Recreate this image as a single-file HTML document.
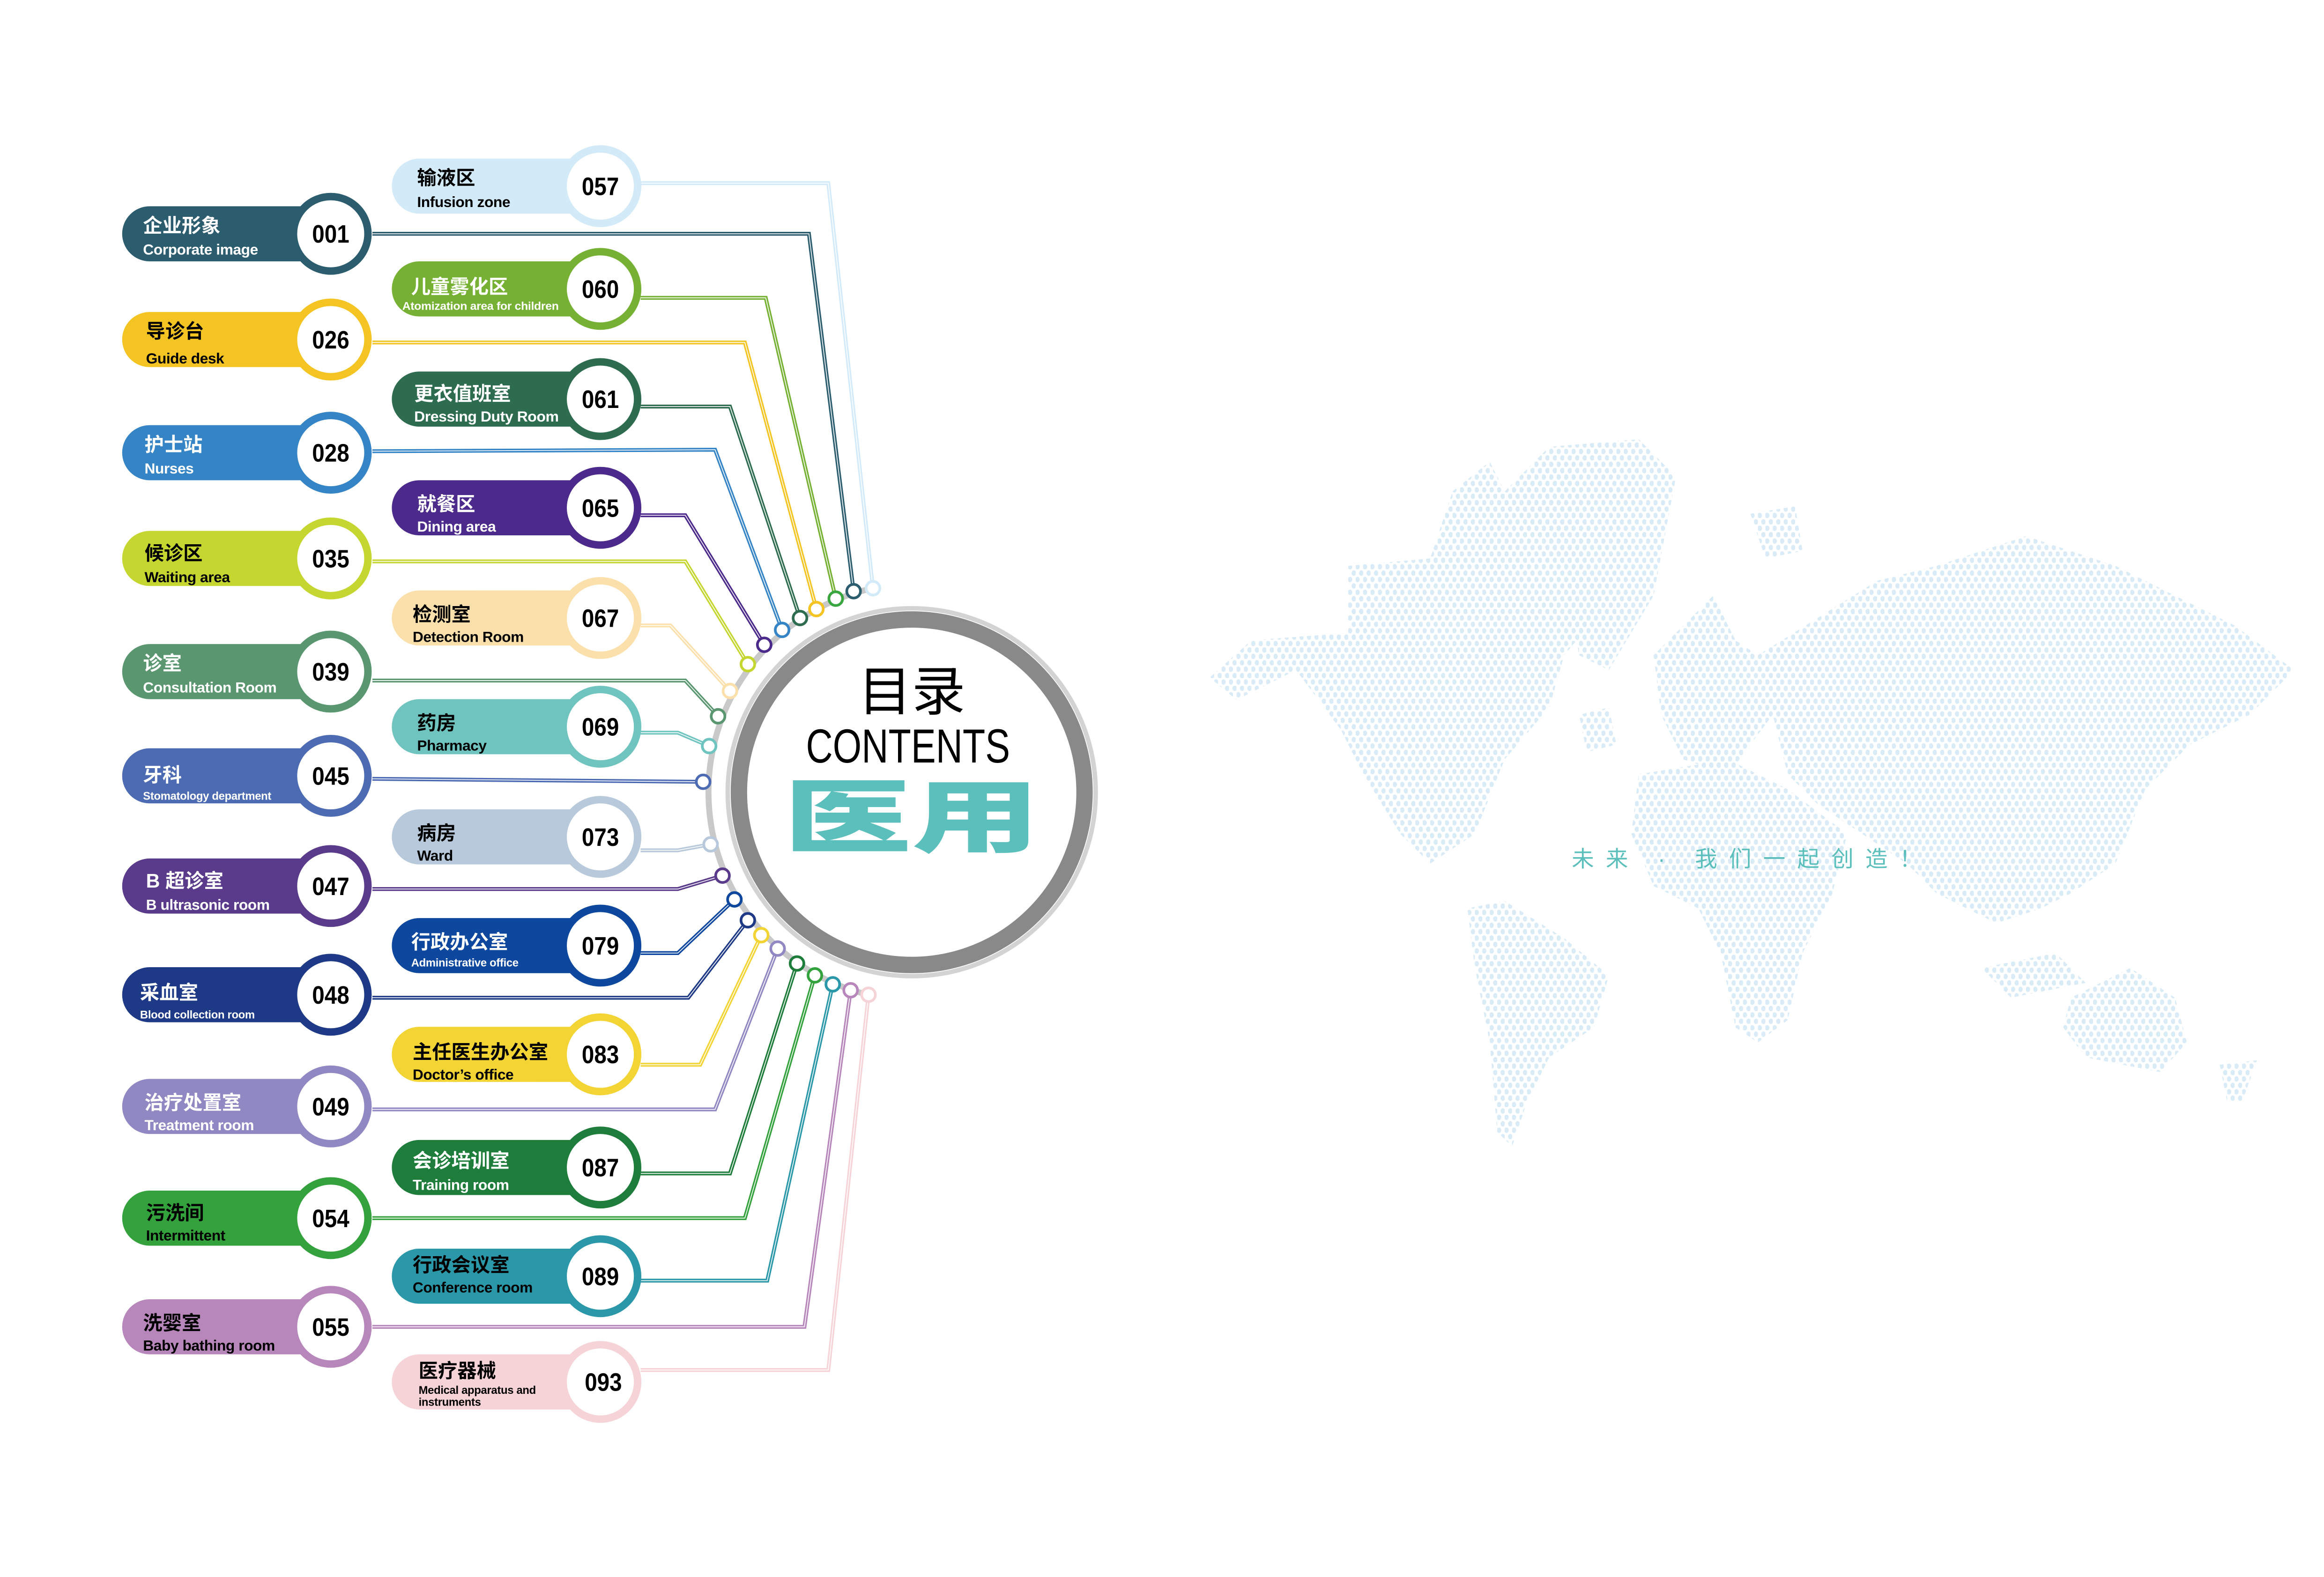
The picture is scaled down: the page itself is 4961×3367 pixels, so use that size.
<!DOCTYPE html>
<html><head><meta charset="utf-8"><style>
html,body{margin:0;padding:0;background:#fff;}
svg{display:block;}
.cn{font-family:"Liberation Sans","Noto Sans CJK SC",sans-serif;font-weight:bold;font-size:13px;}
.en{font-family:"Liberation Sans Narrow","Liberation Sans",sans-serif;font-weight:bold;font-size:10px;letter-spacing:-0.15px;}
.sm{font-family:"Liberation Sans Narrow","Liberation Sans",sans-serif;font-weight:bold;font-size:7.5px;letter-spacing:-0.1px;}
.num{font-family:"Liberation Sans Narrow","Liberation Sans",sans-serif;font-weight:bold;font-size:17px;}
</style></head><body>
<svg width="4961" height="3367" viewBox="0 0 1560 1059" preserveAspectRatio="none" xmlns="http://www.w3.org/2000/svg">
<defs>
<pattern id="dots" width="5" height="8.6" patternUnits="userSpaceOnUse">
<ellipse cx="1.25" cy="2.15" rx="1.5" ry="1.8" fill="#d9ebf6"/>
<ellipse cx="3.75" cy="6.45" rx="1.5" ry="1.8" fill="#d9ebf6"/>
</pattern>
</defs>
<rect width="1560" height="1059" fill="#fff"/>

<!-- world map -->
<g fill="url(#dots)">
<polygon points="812,455 840,430 905,425 905,380 960,375 975,330 1000,310 1010,330 1040,310 1060,320 1075,410 1050,440 1040,475 1010,510 990,560 960,580 940,560 915,520 900,490 870,450 830,470"/>
<polygon points="1010,330 1040,300 1100,295 1125,320 1110,400 1080,450 1060,440 1050,380"/>
<polygon points="985,610 1010,605 1050,630 1080,655 1070,690 1040,710 1025,740 1015,770 1005,760 1000,700 990,650"/>
<polygon points="1110,440 1130,420 1150,400 1165,430 1180,440 1190,480 1160,520 1130,510 1115,480"/>
<polygon points="1100,520 1160,510 1200,530 1240,560 1230,600 1210,640 1200,685 1180,700 1165,690 1155,640 1140,610 1110,595 1095,560"/>
<polygon points="1180,440 1260,390 1300,380 1360,360 1420,380 1500,420 1540,450 1510,480 1470,500 1440,530 1420,580 1390,600 1370,610 1340,620 1300,600 1280,580 1250,560 1220,540 1200,520 1190,480"/>
<polygon points="1390,670 1430,650 1460,670 1468,700 1450,720 1400,710 1385,690"/>
<polygon points="1330,650 1380,640 1400,660 1350,670"/>
<polygon points="1060,480 1080,475 1085,500 1065,505"/>
<polygon points="1175,345 1205,340 1210,370 1185,375"/>
<polygon points="1490,715 1515,712 1505,740 1495,740"/>
</g>
<text x="1055" y="582" font-family="'Liberation Sans','Noto Sans CJK SC',sans-serif" font-size="15" fill="#5bbfbc" textLength="235" lengthAdjust="spacing">未来 · 我们一起创造！</text>

<!-- spine arc -->
<path d="M586,395 A140,140 0 0 0 583,668" fill="none" stroke="#c9c9c9" stroke-width="4"/>

<!-- connectors -->
<g fill="none" stroke-linejoin="miter">
<g stroke-width="2.6">
<polyline stroke="#d3eaf8" points="430,123 556,123 586,395"/>
<polyline stroke="#2c5d6f" points="250,157 543,157 573,397"/>
<polyline stroke="#76b134" points="430,200 514,200 561,402"/>
<polyline stroke="#f4c423" points="250,230 500,230 548,409"/>
<polyline stroke="#2e6c50" points="430,273 490,273 537,415"/>
<polyline stroke="#3584c6" points="250,303 480,302 525,423"/>
<polyline stroke="#4b2a8b" points="430,346 460,346 513,433"/>
<polyline stroke="#c6d630" points="250,377 460,377 502,446"/>
<polyline stroke="#fbe0ab" points="430,420 450,420 490,464"/>
<polyline stroke="#5a9670" points="250,457 460,457 482,481"/>
<polyline stroke="#6fc4bf" points="430,492 455,492 476,501"/>
<polyline stroke="#4d6bb2" points="250,523 472,525"/>
<polyline stroke="#b7c9da" points="430,571 455,571 477,567"/>
<polyline stroke="#5a3b8b" points="250,597 455,597 485,588"/>
<polyline stroke="#0e479e" points="430,640 455,640 493,604"/>
<polyline stroke="#1e3a87" points="250,670 462,670 502,618"/>
<polyline stroke="#f2d435" points="430,715 470,715 511,628"/>
<polyline stroke="#9088c2" points="250,745 480,745 522,637"/>
<polyline stroke="#1e7d3a" points="430,788 490,788 535,647"/>
<polyline stroke="#33a23c" points="250,818 500,818 547,655"/>
<polyline stroke="#2a98a8" points="430,860 515,860 559,661"/>
<polyline stroke="#b787bb" points="250,891 540,891 571,665"/>
<polyline stroke="#f6d3d7" points="430,920 556,920 583,668"/>
</g>
<g stroke="#fff" stroke-width="0.6" opacity="0.9">
<polyline points="430,123 556,123 586,395"/>
<polyline points="250,157 543,157 573,397"/>
<polyline points="430,200 514,200 561,402"/>
<polyline points="250,230 500,230 548,409"/>
<polyline points="430,273 490,273 537,415"/>
<polyline points="250,303 480,302 525,423"/>
<polyline points="430,346 460,346 513,433"/>
<polyline points="250,377 460,377 502,446"/>
<polyline points="430,420 450,420 490,464"/>
<polyline points="250,457 460,457 482,481"/>
<polyline points="430,492 455,492 476,501"/>
<polyline points="250,523 472,525"/>
<polyline points="430,571 455,571 477,567"/>
<polyline points="250,597 455,597 485,588"/>
<polyline points="430,640 455,640 493,604"/>
<polyline points="250,670 462,670 502,618"/>
<polyline points="430,715 470,715 511,628"/>
<polyline points="250,745 480,745 522,637"/>
<polyline points="430,788 490,788 535,647"/>
<polyline points="250,818 500,818 547,655"/>
<polyline points="430,860 515,860 559,661"/>
<polyline points="250,891 540,891 571,665"/>
<polyline points="430,920 556,920 583,668"/>
</g>
</g>

<!-- nodes -->
<g fill="#fff" stroke-width="1.8">
<circle cx="586" cy="395" r="4.6" stroke="#d3eaf8"/>
<circle cx="573" cy="397" r="4.6" stroke="#2c5d6f"/>
<circle cx="561" cy="402" r="4.6" stroke="#3aa640"/>
<circle cx="548" cy="409" r="4.6" stroke="#f4c423"/>
<circle cx="537" cy="415" r="4.6" stroke="#2e6c50"/>
<circle cx="525" cy="423" r="4.6" stroke="#3584c6"/>
<circle cx="513" cy="433" r="4.6" stroke="#4b2a8b"/>
<circle cx="502" cy="446" r="4.6" stroke="#c6d630"/>
<circle cx="490" cy="464" r="4.6" stroke="#fbe0ab"/>
<circle cx="482" cy="481" r="4.6" stroke="#5a9670"/>
<circle cx="476" cy="501" r="4.6" stroke="#6fc4bf"/>
<circle cx="472" cy="525" r="4.6" stroke="#4d6bb2"/>
<circle cx="477" cy="567" r="4.6" stroke="#b7c9da"/>
<circle cx="485" cy="588" r="4.6" stroke="#5a3b8b"/>
<circle cx="493" cy="604" r="4.6" stroke="#0e479e"/>
<circle cx="502" cy="618" r="4.6" stroke="#1e3a87"/>
<circle cx="511" cy="628" r="4.6" stroke="#f2d435"/>
<circle cx="522" cy="637" r="4.6" stroke="#9088c2"/>
<circle cx="535" cy="647" r="4.6" stroke="#1e7d3a"/>
<circle cx="547" cy="655" r="4.6" stroke="#33a23c"/>
<circle cx="559" cy="661" r="4.6" stroke="#2a98a8"/>
<circle cx="571" cy="665" r="4.6" stroke="#b787bb"/>
<circle cx="583" cy="668" r="4.6" stroke="#f6d3d7"/>
</g>

<!-- central circle -->
<circle cx="612" cy="532" r="123.5" fill="#fff" stroke="#d3d3d3" stroke-width="3"/>
<circle cx="612" cy="532" r="116" fill="#fff" stroke="#898989" stroke-width="11"/>
<text x="612" y="477" text-anchor="middle" font-family="'Liberation Sans','Noto Sans CJK SC',sans-serif" font-size="36" fill="#000">目录</text>
<text x="541" y="512" font-family="'Liberation Sans Narrow','Liberation Sans',sans-serif" font-size="32" fill="#000" textLength="137" lengthAdjust="spacingAndGlyphs">CONTENTS</text>
<text x="526" y="568" font-family="'Noto Sans CJK SC',sans-serif" font-weight="900" font-size="54" fill="#5bbfbc" textLength="172" lengthAdjust="spacingAndGlyphs">医用</text>

<!-- left column -->
<g>
<rect x="82" y="138.5" width="140" height="37" rx="18.5" fill="#2c5d6f"/><circle cx="222" cy="157" r="25" fill="#fff" stroke="#2c5d6f" stroke-width="5"/>
<text class="cn" x="96" y="156" fill="#fff">企业形象</text><text class="en" x="96" y="171" fill="#fff">Corporate image</text><text class="num" x="222" y="163" text-anchor="middle" textLength="25" lengthAdjust="spacingAndGlyphs">001</text>

<rect x="82" y="209.5" width="140" height="37" rx="18.5" fill="#f4c423"/><circle cx="222" cy="228" r="25" fill="#fff" stroke="#f4c423" stroke-width="5"/>
<text class="cn" x="98" y="227" fill="#000">导诊台</text><text class="en" x="98" y="244" fill="#000">Guide desk</text><text class="num" x="222" y="234" text-anchor="middle" textLength="25" lengthAdjust="spacingAndGlyphs">026</text>

<rect x="82" y="285.5" width="140" height="37" rx="18.5" fill="#3584c6"/><circle cx="222" cy="304" r="25" fill="#fff" stroke="#3584c6" stroke-width="5"/>
<text class="cn" x="97" y="303" fill="#fff">护士站</text><text class="en" x="97" y="318" fill="#fff">Nurses</text><text class="num" x="222" y="310" text-anchor="middle" textLength="25" lengthAdjust="spacingAndGlyphs">028</text>

<rect x="82" y="356.5" width="140" height="37" rx="18.5" fill="#c6d630"/><circle cx="222" cy="375" r="25" fill="#fff" stroke="#c6d630" stroke-width="5"/>
<text class="cn" x="97" y="376" fill="#000">候诊区</text><text class="en" x="97" y="391" fill="#000">Waiting area</text><text class="num" x="222" y="381" text-anchor="middle" textLength="25" lengthAdjust="spacingAndGlyphs">035</text>

<rect x="82" y="432.5" width="140" height="37" rx="18.5" fill="#5a9670"/><circle cx="222" cy="451" r="25" fill="#fff" stroke="#5a9670" stroke-width="5"/>
<text class="cn" x="96" y="450" fill="#fff">诊室</text><text class="en" x="96" y="465" fill="#fff">Consultation Room</text><text class="num" x="222" y="457" text-anchor="middle" textLength="25" lengthAdjust="spacingAndGlyphs">039</text>

<rect x="82" y="502.5" width="140" height="37" rx="18.5" fill="#4d6bb2"/><circle cx="222" cy="521" r="25" fill="#fff" stroke="#4d6bb2" stroke-width="5"/>
<text class="cn" x="96" y="525" fill="#fff">牙科</text><text class="sm" x="96" y="537" fill="#fff">Stomatology department</text><text class="num" x="222" y="527" text-anchor="middle" textLength="25" lengthAdjust="spacingAndGlyphs">045</text>

<rect x="82" y="576.5" width="140" height="37" rx="18.5" fill="#5a3b8b"/><circle cx="222" cy="595" r="25" fill="#fff" stroke="#5a3b8b" stroke-width="5"/>
<text class="cn" x="98" y="596" fill="#fff">B 超诊室</text><text class="en" x="98" y="611" fill="#fff">B ultrasonic room</text><text class="num" x="222" y="601" text-anchor="middle" textLength="25" lengthAdjust="spacingAndGlyphs">047</text>

<rect x="82" y="649.5" width="140" height="37" rx="18.5" fill="#1e3a87"/><circle cx="222" cy="668" r="25" fill="#fff" stroke="#1e3a87" stroke-width="5"/>
<text class="cn" x="94" y="671" fill="#fff">采血室</text><text class="sm" x="94" y="684" fill="#fff">Blood collection room</text><text class="num" x="222" y="674" text-anchor="middle" textLength="25" lengthAdjust="spacingAndGlyphs">048</text>

<rect x="82" y="724.5" width="140" height="37" rx="18.5" fill="#9088c2"/><circle cx="222" cy="743" r="25" fill="#fff" stroke="#9088c2" stroke-width="5"/>
<text class="cn" x="97" y="745" fill="#fff">治疗处置室</text><text class="en" x="97" y="759" fill="#fff">Treatment room</text><text class="num" x="222" y="749" text-anchor="middle" textLength="25" lengthAdjust="spacingAndGlyphs">049</text>

<rect x="82" y="799.5" width="140" height="37" rx="18.5" fill="#33a23c"/><circle cx="222" cy="818" r="25" fill="#fff" stroke="#33a23c" stroke-width="5"/>
<text class="cn" x="98" y="819" fill="#000">污洗间</text><text class="en" x="98" y="833" fill="#000">Intermittent</text><text class="num" x="222" y="824" text-anchor="middle" textLength="25" lengthAdjust="spacingAndGlyphs">054</text>

<rect x="82" y="872.5" width="140" height="37" rx="18.5" fill="#b787bb"/><circle cx="222" cy="891" r="25" fill="#fff" stroke="#b787bb" stroke-width="5"/>
<text class="cn" x="96" y="893" fill="#000">洗婴室</text><text class="en" x="96" y="907" fill="#000">Baby bathing room</text><text class="num" x="222" y="897" text-anchor="middle" textLength="25" lengthAdjust="spacingAndGlyphs">055</text>
</g>

<!-- right column -->
<g>
<rect x="263" y="106.5" width="140" height="37" rx="18.5" fill="#d3eaf8"/><circle cx="403" cy="125" r="25" fill="#fff" stroke="#d3eaf8" stroke-width="5"/>
<text class="cn" x="280" y="124" fill="#000">输液区</text><text class="en" x="280" y="139" fill="#000">Infusion zone</text><text class="num" x="403" y="131" text-anchor="middle" textLength="25" lengthAdjust="spacingAndGlyphs">057</text>

<rect x="263" y="175.5" width="140" height="37" rx="18.5" fill="#76b134"/><circle cx="403" cy="194" r="25" fill="#fff" stroke="#76b134" stroke-width="5"/>
<text class="cn" x="276" y="197" fill="#fff">儿童雾化区</text><text class="sm" x="270" y="208" fill="#fff" textLength="105" lengthAdjust="spacingAndGlyphs">Atomization area for children</text><text class="num" x="403" y="200" text-anchor="middle" textLength="25" lengthAdjust="spacingAndGlyphs">060</text>

<rect x="263" y="249.5" width="140" height="37" rx="18.5" fill="#2e6c50"/><circle cx="403" cy="268" r="25" fill="#fff" stroke="#2e6c50" stroke-width="5"/>
<text class="cn" x="278" y="269" fill="#fff">更衣值班室</text><text class="en" x="278" y="283" fill="#fff" textLength="97" lengthAdjust="spacingAndGlyphs">Dressing Duty Room</text><text class="num" x="403" y="274" text-anchor="middle" textLength="25" lengthAdjust="spacingAndGlyphs">061</text>

<rect x="263" y="322.5" width="140" height="37" rx="18.5" fill="#4b2a8b"/><circle cx="403" cy="341" r="25" fill="#fff" stroke="#4b2a8b" stroke-width="5"/>
<text class="cn" x="280" y="343" fill="#fff">就餐区</text><text class="en" x="280" y="357" fill="#fff">Dining area</text><text class="num" x="403" y="347" text-anchor="middle" textLength="25" lengthAdjust="spacingAndGlyphs">065</text>

<rect x="263" y="396.5" width="140" height="37" rx="18.5" fill="#fbe0ab"/><circle cx="403" cy="415" r="25" fill="#fff" stroke="#fbe0ab" stroke-width="5"/>
<text class="cn" x="277" y="417" fill="#000">检测室</text><text class="en" x="277" y="431" fill="#000">Detection Room</text><text class="num" x="403" y="421" text-anchor="middle" textLength="25" lengthAdjust="spacingAndGlyphs">067</text>

<rect x="263" y="469.5" width="140" height="37" rx="18.5" fill="#6fc4bf"/><circle cx="403" cy="488" r="25" fill="#fff" stroke="#6fc4bf" stroke-width="5"/>
<text class="cn" x="280" y="490" fill="#000">药房</text><text class="en" x="280" y="504" fill="#000">Pharmacy</text><text class="num" x="403" y="494" text-anchor="middle" textLength="25" lengthAdjust="spacingAndGlyphs">069</text>

<rect x="263" y="543.5" width="140" height="37" rx="18.5" fill="#b7c9da"/><circle cx="403" cy="562" r="25" fill="#fff" stroke="#b7c9da" stroke-width="5"/>
<text class="cn" x="280" y="564" fill="#000">病房</text><text class="en" x="280" y="578" fill="#000">Ward</text><text class="num" x="403" y="568" text-anchor="middle" textLength="25" lengthAdjust="spacingAndGlyphs">073</text>

<rect x="263" y="616.5" width="140" height="37" rx="18.5" fill="#0e479e"/><circle cx="403" cy="635" r="25" fill="#fff" stroke="#0e479e" stroke-width="5"/>
<text class="cn" x="276" y="637" fill="#fff">行政办公室</text><text class="sm" x="276" y="649" fill="#fff">Administrative office</text><text class="num" x="403" y="641" text-anchor="middle" textLength="25" lengthAdjust="spacingAndGlyphs">079</text>

<rect x="263" y="689.5" width="140" height="37" rx="18.5" fill="#f2d435"/><circle cx="403" cy="708" r="25" fill="#fff" stroke="#f2d435" stroke-width="5"/>
<text class="cn" x="277" y="711" fill="#000">主任医生办公室</text><text class="en" x="277" y="725" fill="#000">Doctor’s office</text><text class="num" x="403" y="714" text-anchor="middle" textLength="25" lengthAdjust="spacingAndGlyphs">083</text>

<rect x="263" y="765.5" width="140" height="37" rx="18.5" fill="#1e7d3a"/><circle cx="403" cy="784" r="25" fill="#fff" stroke="#1e7d3a" stroke-width="5"/>
<text class="cn" x="277" y="784" fill="#fff">会诊培训室</text><text class="en" x="277" y="799" fill="#fff">Training room</text><text class="num" x="403" y="790" text-anchor="middle" textLength="25" lengthAdjust="spacingAndGlyphs">087</text>

<rect x="263" y="838.5" width="140" height="37" rx="18.5" fill="#2a98a8"/><circle cx="403" cy="857" r="25" fill="#fff" stroke="#2a98a8" stroke-width="5"/>
<text class="cn" x="277" y="854" fill="#000">行政会议室</text><text class="en" x="277" y="868" fill="#000">Conference room</text><text class="num" x="403" y="863" text-anchor="middle" textLength="25" lengthAdjust="spacingAndGlyphs">089</text>

<rect x="263" y="909.5" width="140" height="37" rx="18.5" fill="#f6d3d7"/><circle cx="403" cy="928" r="25" fill="#fff" stroke="#f6d3d7" stroke-width="5"/>
<text class="cn" x="281" y="925" fill="#000">医疗器械</text><text class="sm" x="281" y="936" fill="#000">Medical apparatus and</text><text class="sm" x="281" y="944" fill="#000">instruments</text><text class="num" x="405" y="934" text-anchor="middle" textLength="25" lengthAdjust="spacingAndGlyphs">093</text>
</g>
</svg>
</body></html>
